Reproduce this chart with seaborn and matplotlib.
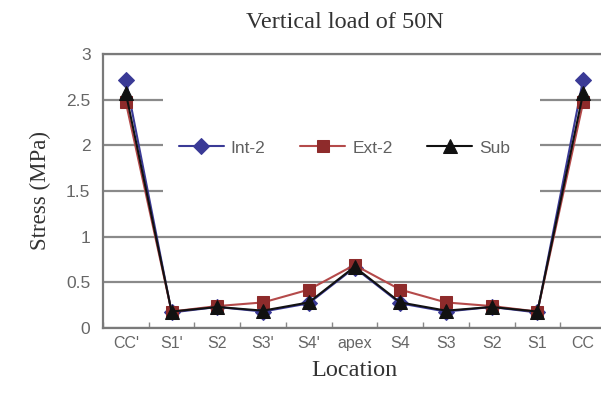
import matplotlib
matplotlib.use("Agg")
import matplotlib.pyplot as plt
from matplotlib.patches import Rectangle
import seaborn as sns
import pandas as pd
import numpy as np

# ---- data ----
locations = ["CC'", "S1'", "S2", "S3'", "S4'", "apex", "S4", "S3", "S2", "S1", "CC"]
int2 = [2.72, 0.17, 0.23, 0.18, 0.27, 0.66, 0.27, 0.18, 0.23, 0.17, 2.72]
ext2 = [2.47, 0.18, 0.24, 0.28, 0.42, 0.69, 0.42, 0.28, 0.24, 0.18, 2.47]
sub = [2.57, 0.18, 0.23, 0.19, 0.28, 0.67, 0.28, 0.19, 0.23, 0.18, 2.57]
series_names = ["Int-2", "Ext-2", "Sub"]
yticks = [0, 0.5, 1, 1.5, 2, 2.5, 3]
ytick_labels = ["0", "0.5", "1", "1.5", "2", "2.5", "3"]

sns.set_theme(style="white")
plt.rcParams["font.family"] = ["Liberation Sans", "DejaVu Sans"]

pos = np.arange(len(locations))
df = pd.DataFrame({
    "pos": np.tile(pos, 3),
    "stress": int2 + ext2 + sub,
    "series": np.repeat(series_names, len(locations)),
})

fig = plt.figure(figsize=(6.01, 4.05), dpi=100)
W, H = 601, 405
ax_left, ax_right, ax_top, ax_bottom = 103, 606, 54, 328
ax = fig.add_axes([ax_left / W, 1 - ax_bottom / H, (ax_right - ax_left) / W, (ax_bottom - ax_top) / H])

styles = {
    "Int-2": dict(color="#3a3a96", marker="D", ms=8.5, line="#3a3a96"),
    "Ext-2": dict(color="#8e2b2b", marker="s", ms=8.5, line="#b44a4a"),
    "Sub": dict(color="#111111", marker="^", ms=9.5, line="#111111"),
}
for name in series_names:
    st = styles[name]
    sns.lineplot(data=df[df["series"] == name], x="pos", y="stress", ax=ax,
                 color=st["line"], marker=st["marker"], markersize=st["ms"],
                 markerfacecolor=st["color"], markeredgecolor=st["color"],
                 linewidth=1.5, label=name, zorder=3)

ax.set_xlim(-0.5, len(locations) - 0.5)
ax.set_ylim(0, 3)
ax.set_yticks(yticks)
ax.set_yticklabels(ytick_labels)
ax.set_xticks(pos)
ax.set_xticklabels(locations)
ax.set_xticks(np.arange(len(locations) + 1) - 0.5, minor=True)
ax.tick_params(axis="x", which="major", length=0, pad=6, labelsize=11.5, labelcolor="#666666")
ax.tick_params(axis="x", which="minor", direction="in", length=4, color="#888888", width=1, bottom=True)
ax.tick_params(axis="y", length=0, pad=9, labelsize=12.5, labelcolor="#666666")

ax.grid(axis="y", color="#8a8a8a", linewidth=1.6, zorder=0)
ax.set_axisbelow(True)
for s in ax.spines.values():
    s.set_color("#7a7a7a")
    s.set_linewidth(1.6)

# white legend area covering the grid
ax.add_patch(Rectangle((0.119, 0.47), 0.75, 0.40, transform=ax.transAxes,
                       facecolor="white", edgecolor="none", zorder=1))

leg = ax.legend(loc="center", bbox_to_anchor=(0.480, 0.657), ncol=3, frameon=False,
                handlelength=2.6, columnspacing=2.0, handletextpad=0.4,
                fontsize=12.5)
for t in leg.get_texts():
    t.set_color("#606060")

serif = ["Liberation Serif", "DejaVu Serif"]
ax.set_xlabel("Location", family=serif, fontsize=17.5, color="#333333", labelpad=6)
ax.set_ylabel("Stress (MPa)", family=serif, fontsize=16.5, color="#333333", labelpad=11)
fig.text(345 / W, 1 - 22 / H, "Vertical load of 50N", family=serif, fontsize=17.5,
         color="#333333", ha="center", va="center")

fig.savefig("out.png", dpi=100, facecolor="white")
